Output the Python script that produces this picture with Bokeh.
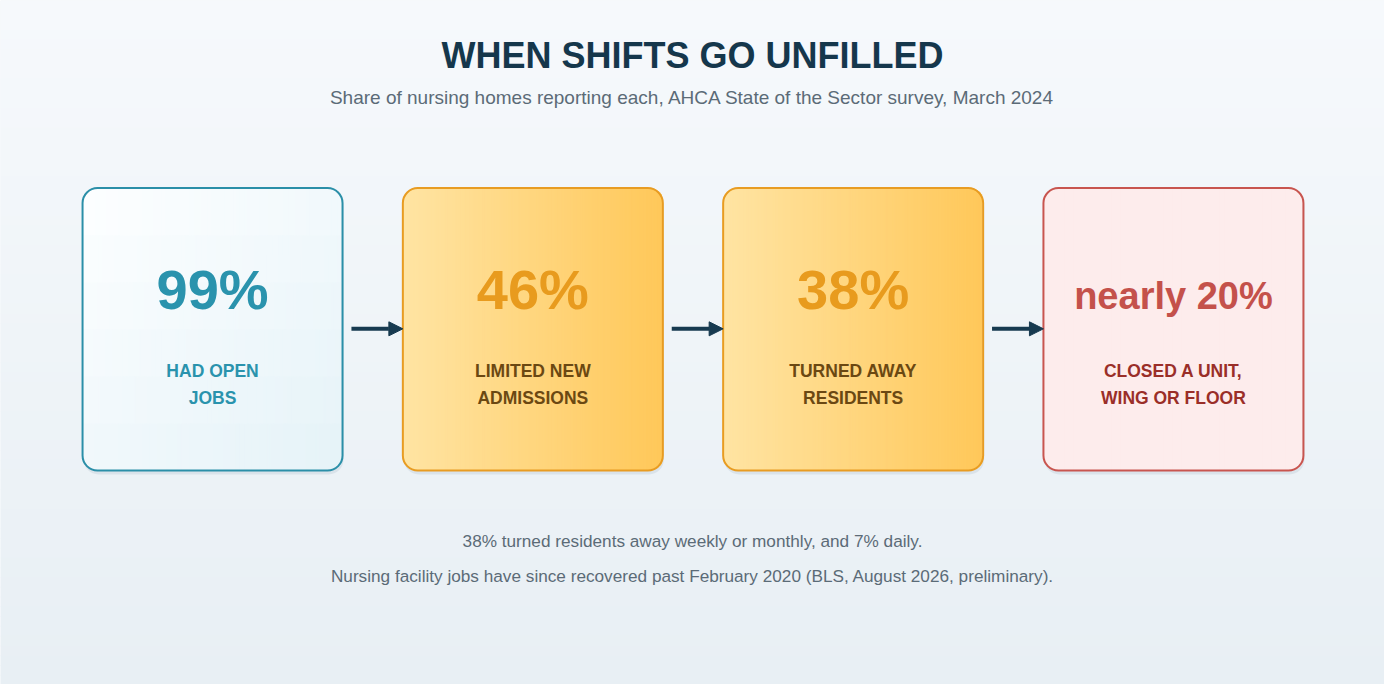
import math

from bokeh.core.properties import value
from bokeh.embed import file_html
from bokeh.models import Arrow, NormalHead, Range1d
from bokeh.plotting import figure
from bokeh.resources import INLINE

# ---- data ----
title = "WHEN SHIFTS GO UNFILLED"
subtitle = "Share of nursing homes reporting each, AHCA State of the Sector survey, March 2024"
values = ["99%", "46%", "38%", "nearly 20%"]
labels_top = ["HAD OPEN", "LIMITED NEW", "TURNED AWAY", "CLOSED A UNIT,"]
labels_bottom = ["JOBS", "ADMISSIONS", "RESIDENTS", "WING OR FLOOR"]
notes = [
	"38% turned residents away weekly or monthly, and 7% daily.",
	"Nursing facility jobs have since recovered past February 2020 (BLS, August 2026, preliminary).",
]

# ---- styles ----
FONT = value("Liberation Sans")
fill_left = ["#fcfeff", "#ffe4a3", "#ffe4a3", "#fdecec"]
fill_right = ["#e6f3f8", "#ffc85a", "#ffc85a", "#fdecec"]
borders = ["#2b8fa8", "#e89c22", "#e89c22", "#c8554f"]
num_colors = ["#2a93ad", "#e89b1e", "#e89b1e", "#c4514b"]
num_sizes = ["56px", "56px", "56px", "38px"]
num_mid = [296, 296, 296, 302]
lab_colors = ["#2a93ad", "#6b4812", "#6b4812", "#9a2e28"]

W, H = 1384, 684
p = figure(width=W, height=H, output_backend="svg", toolbar_location=None,
	x_range=Range1d(0, 1400), y_range=Range1d(700, 0))
p.axis.visible = False
p.grid.visible = False
p.outline_line_color = None
p.min_border = 0
p.background_fill_color = "#eef3f7"
p.border_fill_color = "#eef3f7"


def mix(c1, c2, t):
	a = [int(c1[i:i + 2], 16) for i in (1, 3, 5)]
	b = [int(c2[i:i + 2], 16) for i in (1, 3, 5)]
	return "#%02x%02x%02x" % tuple(round(a[k] + (b[k] - a[k]) * t) for k in range(3))


# page background gradient
n = 70
step = 700 / n
p.quad(left=[0] * n, right=[1400] * n,
	top=[i * step for i in range(n)],
	bottom=[(i + 1) * step + 1 for i in range(n)],
	fill_color=[mix("#f6f9fc", "#e8eff4", i / (n - 1)) for i in range(n)],
	line_color=None)

# cards
x0, pitch, cw = 83, 324, 263
top, bot = 192, 481
r = 15
centers = []
for i in range(len(values)):
	left = x0 + i * pitch
	right = left + cw
	cx = (left + right) / 2
	centers.append(cx)

	# shadow
	p.quad(left=[left + 1], right=[right + 1], top=[top + 4], bottom=[bot + 4],
		fill_color="#b9c8d4", fill_alpha=0.35, line_color=None, border_radius=r)

	# gradient fill as thin strips clipped to the rounded shape
	sw = 1.5
	ns = int(cw / sw)
	nrow = 6 if i == 0 else 1  # first card: diagonal gradient
	rh = (bot - top) / nrow
	ls, rs, ts, bs, cs = [], [], [], [], []
	for k in range(ns):
		xa = left + k * sw
		xm = xa + sw / 2
		d = 0
		if xm < left + r:
			d = left + r - xm
		elif xm > right - r:
			d = xm - (right - r)
		inset = r - math.sqrt(max(r * r - d * d, 0)) if d > 0 else 0
		for j in range(nrow):
			t0 = top + j * rh
			b0 = top + (j + 1) * rh + 1.2
			ls.append(xa)
			rs.append(min(xa + sw + 1.2, right - 1))
			ts.append(max(t0, top + inset))
			bs.append(min(b0, bot - inset))
			tt = (k / (ns - 1) + j / max(nrow - 1, 1)) / 2 if nrow > 1 else k / (ns - 1)
			cs.append(mix(fill_left[i], fill_right[i], tt))
	p.quad(left=ls, right=rs, top=ts, bottom=bs, fill_color=cs, line_color=None)

	# border
	p.quad(left=[left], right=[right], top=[top], bottom=[bot], fill_alpha=0,
		line_color=borders[i], line_width=2, border_radius=r)

	# arrow to next card
	if i < len(values) - 1:
		p.add_layout(Arrow(x_start=right + 9, y_start=336, x_end=left + pitch, y_end=336,
			line_color="#173a50", line_width=4,
			end=NormalHead(size=14, fill_color="#173a50", line_color="#173a50")))

p.text(x=centers, y=num_mid, text=values, text_font=FONT, text_font_style="bold",
	text_font_size=num_sizes, text_color=num_colors,
	text_align="center", text_baseline="middle")

p.text(x=centers, y=[379] * 4, text=labels_top, text_font=FONT, text_font_style="bold",
	text_font_size="17.5px", text_color=lab_colors, text_align="center",
	text_baseline="middle")
p.text(x=centers, y=[407] * 4, text=labels_bottom, text_font=FONT, text_font_style="bold",
	text_font_size="17.5px", text_color=lab_colors, text_align="center",
	text_baseline="middle")

# titles and notes
p.text(x=[700], y=[56], text=[title], text_font=FONT, text_font_style="bold",
	text_font_size="36px", text_color="#15374c", text_align="center",
	text_baseline="middle")
p.text(x=[700], y=[99], text=[subtitle], text_font=FONT, text_font_size="19px",
	text_color="#5b6b77", text_align="center", text_baseline="middle")
p.text(x=[700, 700], y=[553, 589], text=notes, text_font=FONT, text_font_size="17.2px",
	text_color="#5b6b77", text_align="center", text_baseline="middle")

open("out.html", "w").write(file_html(p, INLINE))
